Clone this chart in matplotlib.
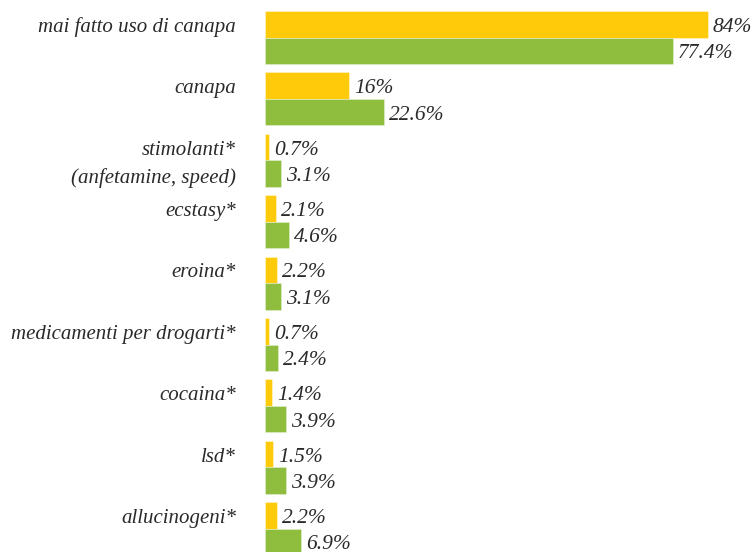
import matplotlib
matplotlib.use("Agg")
import matplotlib.pyplot as plt
import numpy as np

categories = [
    "mai fatto uso di canapa",
    "canapa",
    "stimolanti*\n(anfetamine, speed)",
    "ecstasy*",
    "eroina*",
    "medicamenti per drogarti*",
    "cocaina*",
    "lsd*",
    "allucinogeni*",
]
values_yellow = [84, 16, 0.7, 2.1, 2.2, 0.7, 1.4, 1.5, 2.2]
values_green = [77.4, 22.6, 3.1, 4.6, 3.1, 2.4, 3.9, 3.9, 6.9]
labels_yellow = ["84%", "16%", "0.7%", "2.1%", "2.2%", "0.7%", "1.4%", "1.5%", "2.2%"]
labels_green = ["77.4%", "22.6%", "3.1%", "4.6%", "3.1%", "2.4%", "3.9%", "3.9%", "6.9%"]

YELLOW = "#FFCA0A"
GREEN = "#8FBE3E"
TEXT = "#2a2a2a"
FONT = "Liberation Serif"

W, H = 756, 552
fig = plt.figure(figsize=(W / 100, H / 100), dpi=100)
left_px = 265
ax = fig.add_axes([left_px / W, 0, (W - left_px) / W, 1])
ax.axis("off")

px_per_unit = 5.27
ax.set_xlim(0, (W - left_px) / px_per_unit)

pitch = 61.4  # pixels between groups
bar_h = 26.5 / pitch
first_center = (11 + 26.5) / pitch
ax.set_ylim((H) / pitch - first_center, -first_center)

y = np.arange(len(categories))
ax.barh(y - bar_h / 2, values_yellow, height=bar_h, color=YELLOW,
        edgecolor="#fff6d0", linewidth=0.4)
ax.barh(y + bar_h / 2, values_green, height=bar_h, color=GREEN,
        edgecolor="#e4f0cf", linewidth=0.4)

off = 5 / px_per_unit
dy = 3 / pitch
num_kw = dict(ha="left", va="center", fontsize=15.5, style="italic",
              family=FONT, color=TEXT)
for i in range(len(categories)):
    ax.text(values_yellow[i] + off, y[i] - bar_h / 2 + dy, labels_yellow[i], **num_kw)
    ax.text(values_green[i] + off, y[i] + bar_h / 2 + dy, labels_green[i], **num_kw)

# category names, right-aligned left of the bars
for i, cat in enumerate(categories):
    lines = cat.split("\n")
    for k, line in enumerate(lines):
        ax.text(-29 / px_per_unit, y[i] - bar_h / 2 + dy + k * 28 / pitch, line,
                ha="right", va="center", fontsize=15, style="italic",
                family=FONT, color=TEXT, clip_on=False)

fig.savefig("out.png", dpi=100, facecolor="white")
